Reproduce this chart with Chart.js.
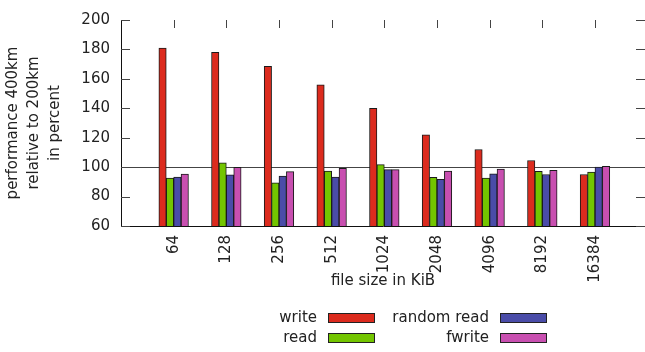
<!DOCTYPE html>
<html>
<head>
<meta charset="utf-8">
<script src="https://cdn.jsdelivr.net/npm/chart.js@4/dist/chart.umd.min.js"></script>
<style>
  html, body { margin: 0; padding: 0; background: #fff; }
  #wrap { width: 645px; height: 352px; position: relative; }
</style>
</head>
<body>
<div id="wrap"><canvas id="c"></canvas></div>
<script>
// File sizes (KiB) on the x axis
const fileSizes = ['64', '128', '256', '512', '1024', '2048', '4096', '8192', '16384'];

// Performance at 400km relative to 200km, in percent
const writeVals      = [181, 178, 168.5, 156, 140, 122, 112, 104.5, 95];
const readVals       = [92.6, 103, 89.3, 97.4, 101.7, 93, 92.6, 97.2, 96.6];
const randomReadVals = [93.2, 94.8, 94, 93.3, 98.3, 91.8, 95.4, 95, 100];
const fwriteVals     = [95.3, 99.8, 97, 99.2, 98.3, 97.4, 98.7, 97.9, 100.5];

// Y axis ticks
const yTicks = [60, 80, 100, 120, 140, 160, 180, 200];

const seriesNames  = ['write', 'read', 'random read', 'fwrite'];
const seriesColors = ['#dc2b1e', '#73c500', '#4a4ca8', '#c84fb0'];
const seriesValues = [writeVals, readVals, randomReadVals, fwriteVals];

const FONT = 'DejaVu Sans';
Chart.defaults.font.family = FONT;
Chart.defaults.font.size = 15;
Chart.defaults.color = '#222';

// Short inward tick marks on all four sides of the plot frame
const innerTicks = {
  id: 'innerTicks',
  beforeDatasetsDraw(chart) {
    const { ctx, chartArea: a } = chart;
    const xs = chart.scales.x, ys = chart.scales.y;
    ctx.save();
    ctx.strokeStyle = '#444';
    ctx.lineWidth = 1;
    ctx.beginPath();
    ys.ticks.forEach(t => {
      const py = Math.round(ys.getPixelForValue(t.value)) + 0.5;
      ctx.moveTo(a.left, py); ctx.lineTo(a.left + 9, py);
      ctx.moveTo(a.right - 9, py); ctx.lineTo(a.right, py);
    });
    xs.ticks.forEach(t => {
      const px = Math.round(xs.getPixelForValue(t.value)) + 0.5;
      ctx.moveTo(px, a.top); ctx.lineTo(px, a.top + 8);
      ctx.moveTo(px, a.bottom); ctx.lineTo(px, a.bottom - 8);
    });
    ctx.stroke();
    ctx.restore();
  }
};

// Two-column key with the label to the left of each swatch
const keyBox = {
  id: 'keyBox',
  afterDraw(chart) {
    const { ctx } = chart;
    const cols = [{ textRight: 317, boxLeft: 328 }, { textRight: 489, boxLeft: 500 }];
    const rows = [318, 338];
    ctx.save();
    ctx.font = '15px "' + FONT + '"';
    ctx.textAlign = 'right';
    ctx.textBaseline = 'middle';
    chart.data.datasets.forEach((ds, i) => {
      const col = cols[Math.floor(i / 2)];
      const y = rows[i % 2];
      ctx.fillStyle = '#222';
      ctx.fillText(ds.label, col.textRight, y);
      ctx.fillStyle = ds.backgroundColor;
      ctx.fillRect(col.boxLeft, y - 5, 47, 10);
      ctx.strokeStyle = '#222';
      ctx.lineWidth = 1;
      ctx.strokeRect(col.boxLeft + 0.5, y - 5 + 0.5, 46, 9);
    });
    ctx.restore();
  }
};

new Chart(document.getElementById('c'), {
  type: 'bar',
  data: {
    datasets: seriesNames.map((name, s) => ({
      label: name,
      data: seriesValues[s].map((v, i) => ({ x: i, y: v })),
      backgroundColor: seriesColors[s],
      borderColor: '#1a1a1a',
      borderWidth: 1,
      borderSkipped: false,
      barThickness: 7.4
    }))
  },
  options: {
    responsive: true,
    maintainAspectRatio: false,
    animation: false,
    layout: { padding: { top: 10, right: 0, bottom: 62, left: 0 } },
    plugins: { legend: { display: false }, tooltip: { enabled: false } },
    scales: {
      x: {
        type: 'linear',
        offset: false,
        min: -1,
        max: 8.95,
        afterBuildTicks: scale => { scale.ticks = fileSizes.map((_, i) => ({ value: i })); },
        afterFit: scale => { scale.height = 64; },
        ticks: {
          autoSkip: false,
          minRotation: 90,
          maxRotation: 90,
          padding: 9,
          color: '#222',
          callback: v => fileSizes[v]
        },
        grid: { display: true, offset: false, drawOnChartArea: false, drawTicks: false },
        border: { display: true, color: '#111', width: 1 },
        title: {
          display: true,
          text: 'file size in KiB',
          color: '#222',
          font: { size: 15, lineHeight: 1.2 },
          padding: { top: 0, bottom: 0 }
        }
      },
      y: {
        min: 60,
        max: 200,
        afterBuildTicks: scale => { scale.ticks = yTicks.map(v => ({ value: v })); },
        afterFit: scale => { scale.width = 121; },
        ticks: { padding: 11, color: '#222' },
        grid: {
          drawTicks: false,
          color: c => (c.tick && c.tick.value === 100) ? '#444' : 'rgba(0,0,0,0)'
        },
        border: { display: true, color: '#111', width: 1 },
        title: {
          display: true,
          text: ['performance 400km', 'relative to 200km', 'in percent'],
          color: '#222',
          font: { size: 15, lineHeight: 1.4 },
          padding: { top: 3, bottom: 0 }
        }
      }
    }
  },
  plugins: [innerTicks, keyBox]
});
</script>
</body>
</html>
